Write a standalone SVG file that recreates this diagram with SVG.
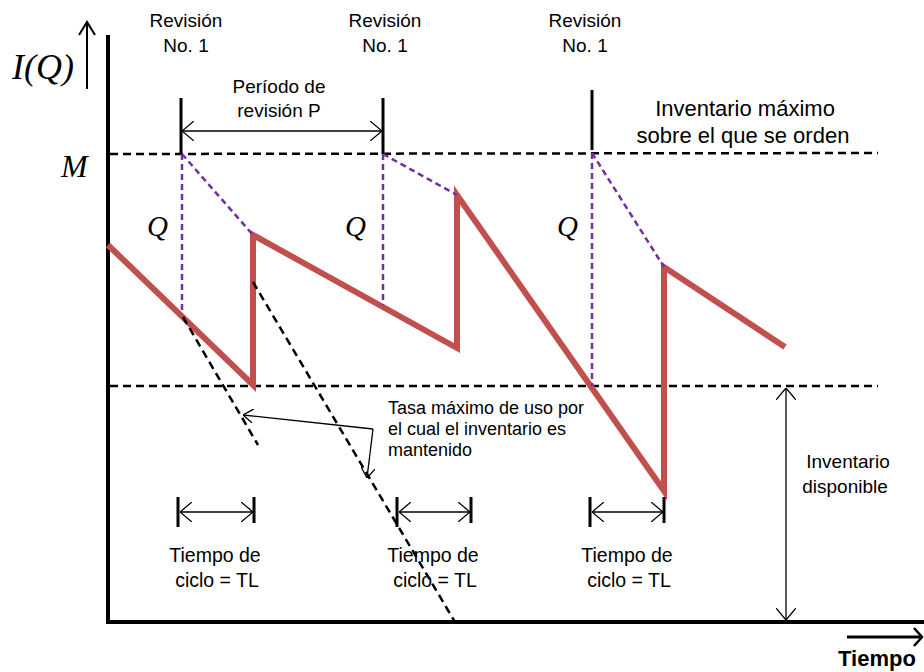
<svg xmlns="http://www.w3.org/2000/svg" width="924" height="672" viewBox="0 0 924 672">
<style>
.t{font-family:"Liberation Sans",Arial,sans-serif;fill:#000;text-anchor:middle}
.m{font-family:"Liberation Serif","Times New Roman",serif;font-style:italic;fill:#000}
.dash{stroke:#000;stroke-width:2.5;stroke-dasharray:8 5;fill:none}
.pur{stroke:#7030A0;stroke-width:2.5;stroke-dasharray:6 4;fill:none}
.thin{stroke:#000;stroke-width:1.3;fill:none}
.tick{stroke:#000;stroke-width:3;fill:none}
</style>
<defs>
<marker id="big" viewBox="0 0 12 20" refX="12" refY="10" markerWidth="12" markerHeight="20" markerUnits="userSpaceOnUse" orient="auto-start-reverse">
<path d="M0,0 L12,10 L0,20" fill="none" stroke="#000" stroke-width="1.3"/>
</marker>
<marker id="sm" viewBox="0 0 10 14" refX="10" refY="7" markerWidth="10" markerHeight="14" markerUnits="userSpaceOnUse" orient="auto">
<path d="M0,0 L10,7 L0,14" fill="none" stroke="#000" stroke-width="1.3"/>
</marker>
</defs>
<rect width="924" height="672" fill="#fff"/>
<g id="axes">
<line x1="108" y1="35" x2="108" y2="624" stroke="#000" stroke-width="4"/>
<line x1="106" y1="622" x2="924" y2="622" stroke="#000" stroke-width="4"/>
<line x1="87" y1="89" x2="87" y2="23" stroke="#000" stroke-width="2"/>
<path d="M79,35 L87,22 L95,35" fill="none" stroke="#000" stroke-width="2"/>
<text class="m" x="12" y="79" font-size="36">I(Q)</text>
<text class="m" x="61" y="177" font-size="32">M</text>
<line x1="847" y1="637" x2="922" y2="637" stroke="#000" stroke-width="3"/>
<path d="M914,628 L922,637 L914,646" fill="none" stroke="#000" stroke-width="2.5"/>
<text class="t" x="877" y="666" font-size="22" font-weight="bold">Tiempo</text>
</g>
<g id="levels">
<line class="dash" x1="110" y1="154" x2="878" y2="153"/>
<line class="dash" x1="110" y1="386" x2="878" y2="386"/>
</g>
<g id="revisions">
<text class="t" font-size="19"><tspan x="186" y="27">Revisión</tspan><tspan x="186" y="52">No. 1</tspan></text>
<text class="t" font-size="19"><tspan x="385" y="27">Revisión</tspan><tspan x="385" y="52">No. 1</tspan></text>
<text class="t" font-size="19"><tspan x="585" y="27">Revisión</tspan><tspan x="585" y="52">No. 1</tspan></text>
<line class="tick" x1="181" y1="98" x2="181" y2="154"/>
<line class="tick" x1="383" y1="98" x2="383" y2="154"/>
<line class="tick" x1="592" y1="90" x2="592" y2="150"/>
</g>
<g id="period">
<text class="t" font-size="19"><tspan x="279" y="93">Período de</tspan><tspan x="279" y="117">revisión P</tspan></text>
</g>
<g id="maxinv">
<text class="t" font-size="22"><tspan x="745" y="116">Inventario máximo</tspan><tspan x="743" y="143">sobre el que se orden</tspan></text>
</g>
<g id="orders">
<text class="m" x="147" y="236" font-size="29">Q</text>
<text class="m" x="345" y="236" font-size="29">Q</text>
<text class="m" x="557" y="236" font-size="29">Q</text>
</g>
<g id="inventory">
<polyline points="108,245 253,385 253,235 457,348 457,195 664,491 664,267 785,347" fill="none" stroke="#C0504D" stroke-width="6" stroke-linejoin="miter"/>
</g>
<g id="usage">
<text class="t" font-size="18" style="text-anchor:start"><tspan x="388" y="414">Tasa máximo de uso por</tspan><tspan x="388" y="435">el cual el inventario es</tspan><tspan x="388" y="456">mantenido</tspan></text>
</g>
<g id="cycles">
<text class="t" font-size="19.5"><tspan x="215" y="562">Tiempo de</tspan><tspan x="217" y="587">ciclo = TL</tspan></text>
<text class="t" font-size="19.5"><tspan x="433" y="562">Tiempo de</tspan><tspan x="435" y="587">ciclo = TL</tspan></text>
<text class="t" font-size="19.5"><tspan x="627" y="562">Tiempo de</tspan><tspan x="629" y="587">ciclo = TL</tspan></text>
<line class="tick" x1="178" y1="497" x2="178" y2="527"/>
<line class="tick" x1="254" y1="497" x2="254" y2="523"/>
<line class="tick" x1="397" y1="497" x2="397" y2="527"/>
<line class="tick" x1="471" y1="497" x2="471" y2="523"/>
<line class="tick" x1="590" y1="497" x2="590" y2="527"/>
<line class="tick" x1="664" y1="497" x2="664" y2="523"/>
</g>
<g id="available">
<text class="t" font-size="19"><tspan x="848" y="468">Inventario</tspan><tspan x="845" y="493">disponible</tspan></text>
</g>
<g id="connectors">
<line class="pur" x1="182" y1="154" x2="182" y2="314"/>
<line class="pur" x1="182" y1="154" x2="253" y2="235"/>
<line class="pur" x1="383" y1="154" x2="383" y2="305"/>
<line class="pur" x1="383" y1="154" x2="457" y2="195"/>
<line class="pur" x1="592" y1="153" x2="592" y2="386"/>
<line class="pur" x1="592" y1="153" x2="664" y2="267"/>
<line class="dash" x1="183" y1="317" x2="258" y2="445"/>
<line class="dash" x1="253" y1="282" x2="455" y2="622"/>
<line class="thin" x1="182" y1="131" x2="382" y2="131" marker-start="url(#big)" marker-end="url(#big)"/>
<line class="thin" x1="786" y1="388" x2="786" y2="620" marker-start="url(#big)" marker-end="url(#big)"/>
<line class="thin" x1="180" y1="512" x2="253" y2="512" marker-start="url(#big)" marker-end="url(#big)"/>
<line class="thin" x1="399" y1="512" x2="470" y2="512" marker-start="url(#big)" marker-end="url(#big)"/>
<line class="thin" x1="592" y1="512" x2="663" y2="512" marker-start="url(#big)" marker-end="url(#big)"/>
<polyline class="thin" points="373,429 243,415" marker-end="url(#sm)"/>
<polyline class="thin" points="373,429 367,478" marker-end="url(#sm)"/>
</g>
</svg>
